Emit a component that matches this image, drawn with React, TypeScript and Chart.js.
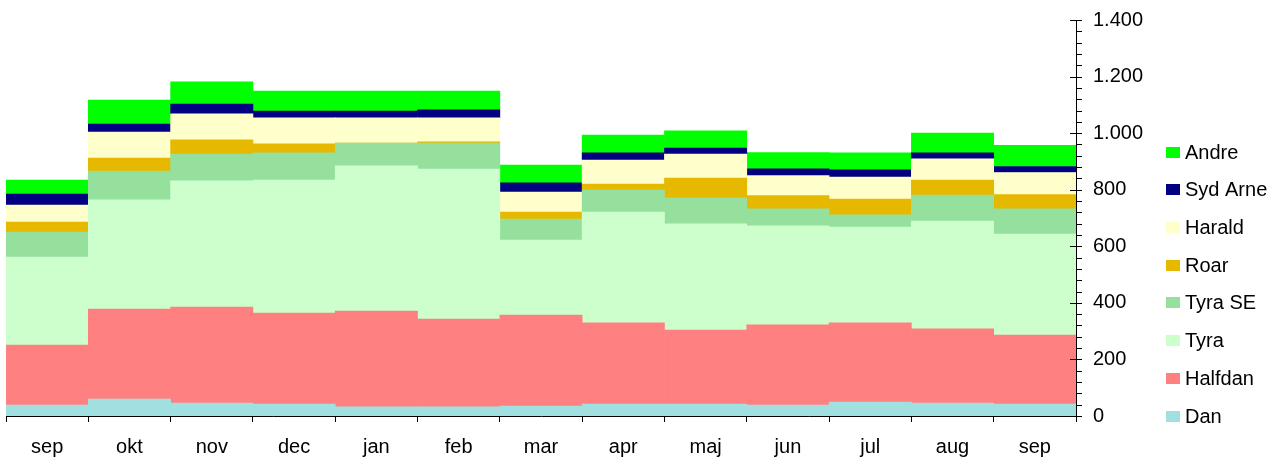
import React, { useEffect, useRef } from "react";
import { Chart, registerables } from "chart.js";

Chart.register(...registerables);

const labels = ["sep", "okt", "nov", "dec", "jan", "feb", "mar", "apr", "maj", "jun", "jul", "aug", "sep"];
const dan = [39, 60, 46, 42, 32, 32, 35, 42, 42, 39, 49, 46, 42];
const halfdan = [212, 318, 339, 322, 339, 311, 322, 287, 262, 283, 280, 262, 244];
const tyra = [311, 386, 446, 470, 513, 530, 265, 392, 375, 350, 339, 381, 357];
const tyraSE = [88, 102, 95, 96, 81, 92, 74, 78, 92, 60, 43, 92, 89];
const roar = [36, 46, 50, 32, 0, 4, 25, 21, 70, 47, 56, 53, 51];
const harald = [60, 92, 92, 92, 89, 85, 71, 85, 85, 71, 78, 75, 78];
const sydArne = [39, 28, 35, 24, 24, 28, 32, 25, 21, 24, 25, 21, 21];
const andre = [49, 85, 78, 71, 71, 67, 63, 63, 61, 57, 60, 70, 75];

const seriesNames = ["Dan", "Halfdan", "Tyra", "Tyra SE", "Roar", "Harald", "Syd Arne", "Andre"];
const seriesColors = ["#A0E0E0", "#FF8080", "#CCFFCC", "#94E09C", "#E6B800", "#FFFFCC", "#000080", "#00FF00"];
const seriesData = [dan, halfdan, tyra, tyraSE, roar, harald, sydArne, andre];

const yMin = 0;
const yMax = 1400;
const yMajorStep = 200;
const yMinorStep = 40;

const FONT = '"Liberation Sans", Arial, sans-serif';

function fmt(v: number): string {
  return String(v).replace(/\B(?=(\d{3})+(?!\d))/g, ".");
}

const extrasPlugin = {
  id: "extras",
  afterDraw(chart: any) {
    const { ctx, chartArea } = chart;
    const y = chart.scales.y;
    const ax = chartArea.right;
    ctx.save();
    ctx.strokeStyle = "#000";
    ctx.lineWidth = 1;
    for (let v = yMin; v <= yMax; v += yMinorStep) {
      const py = Math.round(y.getPixelForValue(v)) + 0.5;
      const major = v % yMajorStep === 0;
      ctx.beginPath();
      ctx.moveTo(major ? ax - 6 : ax, py);
      ctx.lineTo(ax + 6, py);
      ctx.stroke();
    }
    ctx.beginPath();
    ctx.moveTo(Math.round(ax) + 0.5, chartArea.bottom);
    ctx.lineTo(Math.round(ax) + 0.5, chartArea.bottom + 6);
    ctx.stroke();

    const ds = chart.data.datasets;
    const spacing = 37.7;
    ctx.font = "20px " + FONT;
    ctx.textBaseline = "middle";
    ctx.textAlign = "left";
    for (let i = 0; i < ds.length; i++) {
      const cy = chartArea.bottom - i * spacing;
      ctx.fillStyle = ds[i].backgroundColor;
      ctx.fillRect(1166, Math.round(cy - 5.5), 14, 11);
      ctx.fillStyle = "#000";
      ctx.fillText(ds[i].label, 1185, cy + 1);
    }
    ctx.restore();
  },
};

export default function App() {
  const ref = useRef<HTMLCanvasElement | null>(null);
  useEffect(() => {
    if (!ref.current) return;
    const chart = new Chart(ref.current, {
      type: "bar",
      data: {
        labels,
        datasets: seriesNames.map((name, i) => ({
          label: name,
          data: seriesData[i],
          backgroundColor: seriesColors[i],
          borderWidth: 0,
          categoryPercentage: 1,
          barPercentage: 1,
        })),
      },
      options: {
        animation: false,
        responsive: false,
        maintainAspectRatio: false,
        layout: { padding: { left: 6, top: 20, right: 0, bottom: 0 } },
        plugins: { legend: { display: false }, tooltip: { enabled: false } },
        scales: {
          x: {
            stacked: true,
            grid: {
              display: true,
              drawOnChartArea: false,
              drawTicks: true,
              tickLength: 6,
              color: "#000",
              offset: true,
            },
            border: { display: true, color: "#000" },
            ticks: {
              color: "#000",
              font: { size: 20, family: FONT },
              padding: 13,
              maxRotation: 0,
              autoSkip: false,
            },
            afterFit: (s: any) => {
              s.height = 43;
              s.paddingLeft = 0;
              s.paddingRight = 0;
            },
          },
          y: {
            stacked: true,
            position: "right",
            min: yMin,
            max: yMax,
            grid: { display: false, drawTicks: false },
            border: { display: true, color: "#000" },
            ticks: {
              stepSize: yMajorStep,
              color: "#000",
              font: { size: 20, family: FONT },
              padding: 17,
              callback: (v: any) => fmt(Number(v)),
            },
            afterFit: (s: any) => {
              s.width = 205;
              s.paddingTop = 0;
              s.paddingBottom = 0;
            },
          },
        },
      },
      plugins: [extrasPlugin],
    });
    return () => chart.destroy();
  }, []);
  return (
    <div style={{ position: "absolute", left: 0, top: 0, width: 1281, height: 459, background: "#fff" }}>
      <canvas ref={ref} width={1281} height={459} />
    </div>
  );
}
